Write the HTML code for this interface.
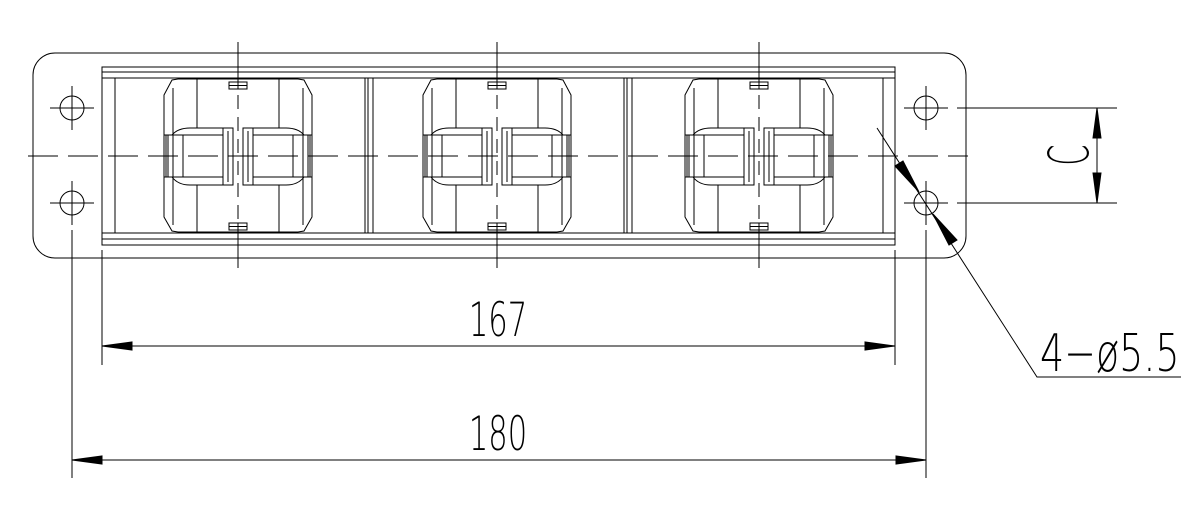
<!DOCTYPE html>
<html><head><meta charset="utf-8"><style>html,body{margin:0;padding:0;background:#fff}svg{display:block}</style></head>
<body>
<svg width="1197" height="517" viewBox="0 0 1197 517" xmlns="http://www.w3.org/2000/svg" fill="none" stroke="#000" stroke-width="1">
<defs>
<g id="half">
  <path d="M-48,128 L-15,128 M-48,185 L-15,185"/>
  <path d="M-48,128 Q-60,128 -66,135 M-48,185 Q-60,185 -66,177"/>
  <path d="M-74,135 L-15,135 M-74,177 L-15,177"/>
  <line x1="-55" y1="135" x2="-55" y2="177"/>
  <line x1="-72" y1="135" x2="-72" y2="177"/><line x1="-70" y1="135" x2="-70" y2="177"/>
  <rect x="-15" y="128" width="10" height="57"/>
  <line x1="-10" y1="131" x2="-10" y2="182"/>
  <path d="M-60,79 L-66,80 L-74,95 L-74,217 L-66,231 L-60,232"/>
  <line x1="-65" y1="88" x2="-65" y2="225"/>
  <path d="M-41,79 L-41,128 M-41,185 L-41,232"/>
</g>
<g id="mod">
  <line x1="-60" y1="79" x2="60" y2="79"/><line x1="-60" y1="232" x2="60" y2="232"/>
  <use href="#half"/>
  <use href="#half" transform="scale(-1,1)"/>
  <rect x="-9" y="82" width="18" height="7"/><line x1="-9" y1="85.5" x2="9" y2="85.5"/>
  <rect x="-9" y="223" width="18" height="7"/><line x1="-9" y1="226.5" x2="9" y2="226.5"/>
  <line x1="0" y1="42" x2="0" y2="89"/>
  <line x1="0" y1="223" x2="0" y2="268"/>
  <line x1="0" y1="95" x2="0" y2="220" stroke-dasharray="14,8"/>
</g>
<g id="hole">
  <circle cx="0" cy="0" r="12"/>
  <line x1="-22" y1="0" x2="22" y2="0"/><line x1="0" y1="-22" x2="0" y2="22"/>
</g>
</defs>
<rect x="33" y="53" width="933" height="205" rx="22"/>
<rect x="102" y="67" width="793" height="178"/>
<line x1="102" y1="72" x2="895" y2="72"/><line x1="102" y1="78" x2="895" y2="78"/>
<line x1="102" y1="233" x2="895" y2="233"/><line x1="102" y1="239" x2="895" y2="239"/>
<line x1="115" y1="78" x2="115" y2="233"/><line x1="883" y1="78" x2="883" y2="233"/>
<line x1="365" y1="78" x2="365" y2="233"/><line x1="368" y1="78" x2="368" y2="233"/><line x1="373" y1="78" x2="373" y2="233"/>
<line x1="624" y1="78" x2="624" y2="233"/><line x1="627" y1="78" x2="627" y2="233"/><line x1="632" y1="78" x2="632" y2="233"/>
<line x1="28" y1="156" x2="968" y2="156" stroke-dasharray="30,10"/>
<use href="#mod" transform="translate(238,0)"/>
<use href="#mod" transform="translate(497,0)"/>
<use href="#mod" transform="translate(759,0)"/>
<use href="#hole" transform="translate(72,108)"/>
<use href="#hole" transform="translate(72,203)"/>
<use href="#hole" transform="translate(926,108)"/>
<use href="#hole" transform="translate(926,203)"/>
<line x1="72" y1="230" x2="72" y2="478"/><line x1="926" y1="230" x2="926" y2="478"/>
<line x1="102" y1="250" x2="102" y2="365"/><line x1="895" y1="250" x2="895" y2="365"/>
<line x1="102" y1="346" x2="895" y2="346"/>
<path d="M102,346 L132,342 L132,350 Z M895,346 L865,342 L865,350 Z" fill="#000"/>
<line x1="72" y1="460" x2="926" y2="460"/>
<path d="M72,460 L102,456 L102,464 Z M926,460 L896,456 L896,464 Z" fill="#000"/>
<line x1="957" y1="108" x2="1117" y2="108"/><line x1="957" y1="203" x2="1117" y2="203"/>
<line x1="1097" y1="108" x2="1097" y2="203"/>
<path d="M1097,108 L1093,138 L1101,138 Z M1097,203 L1093,173 L1101,173 Z" fill="#000"/>
<polyline points="877,128 1037,377 1181,377"/>
<path d="M919,192 L895,166 L903,161 Z M933,214 L957,240 L949,245 Z" fill="#000"/>
<g fill="#000" stroke="none" font-family="DejaVu Sans, Liberation Sans, sans-serif" font-weight="200">
  <text transform="translate(498,336) scale(0.65,1)" text-anchor="middle" font-size="47">167</text>
  <text transform="translate(498,450) scale(0.65,1)" text-anchor="middle" font-size="47">180</text>
  <text transform="translate(1040,371) scale(0.73,1)" font-size="52">4−ø5.5</text>
  <text transform="translate(1088,155) rotate(-90) scale(0.55,1)" text-anchor="middle" font-size="55">C</text>
</g>
</svg>
</body></html>
